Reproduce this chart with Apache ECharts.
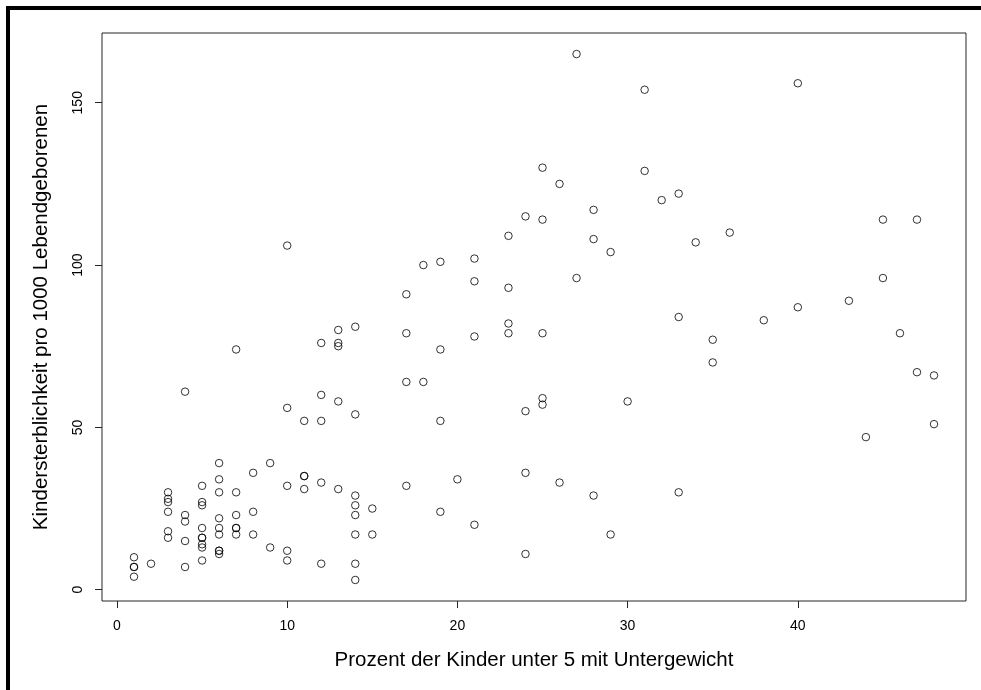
<!DOCTYPE html>
<html>
<head>
<meta charset="utf-8">
<script src="https://cdn.jsdelivr.net/npm/echarts@6/dist/echarts.min.js"></script>
<style>
  html, body { margin: 0; padding: 0; background: #fff; }
  #chart { width: 981px; height: 690px; }
</style>
</head>
<body>
<div id="chart"></div>
<script>
// Percentage of children under 5 who are underweight (x) and
// infant mortality per 1000 live births (y), one entry per country.
const underweight = [
  1, 1, 1, 1,
  2,
  3, 3, 3, 3, 3, 3,
  4, 4, 4, 4, 4,
  5, 5, 5, 5, 5, 5, 5, 5, 5,
  6, 6, 6, 6, 6, 6, 6, 6, 6,
  7, 7, 7, 7, 7, 7,
  8, 8, 8,
  9, 9,
  10, 10, 10, 10, 10,
  11, 11, 11, 11,
  12, 12, 12, 12, 12,
  13, 13, 13, 13, 13,
  14, 14, 14, 14, 14, 14, 14, 14,
  15, 15,
  17, 17, 17, 17,
  18, 18,
  19, 19, 19, 19,
  20,
  21, 21, 21, 21,
  23, 23, 23, 23,
  24, 24, 24, 24,
  25, 25, 25, 25, 25,
  26, 26,
  27, 27,
  28, 28, 28,
  29, 29,
  30,
  31, 31,
  32,
  33, 33, 33,
  34,
  35, 35,
  36,
  38,
  40, 40,
  43,
  44,
  45, 45,
  46,
  47, 47,
  48, 48
];
const mortality = [
  10, 7, 7, 4,
  8,
  30, 28, 27, 24, 18, 16,
  61, 23, 21, 15, 7,
  32, 27, 26, 19, 16, 16, 14, 13, 9,
  39, 34, 30, 22, 19, 17, 12, 12, 11,
  74, 30, 23, 19, 19, 17,
  36, 24, 17,
  39, 13,
  106, 56, 32, 12, 9,
  52, 35, 35, 31,
  76, 60, 52, 33, 8,
  80, 76, 75, 58, 31,
  81, 54, 29, 26, 23, 17, 8, 3,
  25, 17,
  91, 79, 64, 32,
  100, 64,
  101, 74, 52, 24,
  34,
  102, 95, 78, 20,
  109, 93, 82, 79,
  115, 55, 36, 11,
  130, 114, 79, 59, 57,
  125, 33,
  165, 96,
  117, 108, 29,
  104, 17,
  58,
  154, 129,
  120,
  122, 84, 30,
  107,
  77, 70,
  110,
  83,
  156, 87,
  89,
  47,
  114, 96,
  79,
  114, 67,
  66, 51
];
const xTicks = [0, 10, 20, 30, 40];
const yTicks = [0, 50, 100, 150];
const xTitle = 'Prozent der Kinder unter 5 mit Untergewicht';
const yTitle = 'Kindersterblichkeit pro 1000 Lebendgeborenen';

// Axis extents: data range widened by 4% on each side.
function paddedRange(values) {
  const lo = Math.min(...values), hi = Math.max(...values);
  const pad = (hi - lo) * 0.04;
  return [lo - pad, hi + pad];
}
const [xMin, xMax] = paddedRange(underweight);
const [yMin, yMax] = paddedRange(mortality);

const points = underweight.map((x, i) => [x, mortality[i]]);

const FONT = '"Liberation Sans", Arial, Helvetica, sans-serif';
const LINE = '#262626';

const chart = echarts.init(document.getElementById('chart'), null, { renderer: 'canvas' });
chart.setOption({
  animation: false,
  backgroundColor: '#fff',
  grid: {
    left: 102, right: 15, top: 33, bottom: 89,
    show: true, borderColor: LINE, borderWidth: 1,
    backgroundColor: 'transparent'
  },
  xAxis: {
    type: 'value',
    min: xMin, max: xMax,
    axisLine: { show: false, onZero: false },
    splitLine: { show: false },
    axisTick: { show: true, customValues: xTicks, length: 7, inside: false, lineStyle: { color: LINE, width: 1 } },
    axisLabel: { customValues: xTicks, margin: 18, fontSize: 14, color: '#000', fontFamily: FONT },
    name: xTitle,
    nameLocation: 'middle',
    nameGap: 49,
    nameTextStyle: { fontSize: 20.5, color: '#000', fontFamily: FONT }
  },
  yAxis: {
    type: 'value',
    min: yMin, max: yMax,
    axisLine: { show: false, onZero: false },
    splitLine: { show: false },
    axisTick: { show: true, customValues: yTicks, length: 7, inside: false, lineStyle: { color: LINE, width: 1 } },
    axisLabel: { customValues: yTicks, rotate: 90, margin: 17, fontSize: 14, color: '#000', fontFamily: FONT },
    name: yTitle,
    nameLocation: 'middle',
    nameGap: 50,
    nameTextStyle: { fontSize: 20.5, color: '#000', fontFamily: FONT }
  },
  series: [{
    type: 'scatter',
    data: points,
    symbol: 'circle',
    symbolSize: 7.5,
    itemStyle: { color: 'rgba(0,0,0,0)', borderColor: '#000', borderWidth: 1 },
    emphasis: { disabled: true },
    silent: true
  }],
  graphic: [
    { type: 'rect', shape: { x: 6, y: 6, width: 4, height: 684 }, style: { fill: '#000' }, silent: true },
    { type: 'rect', shape: { x: 6, y: 6, width: 975, height: 4 }, style: { fill: '#000' }, silent: true }
  ]
});
</script>
</body>
</html>
